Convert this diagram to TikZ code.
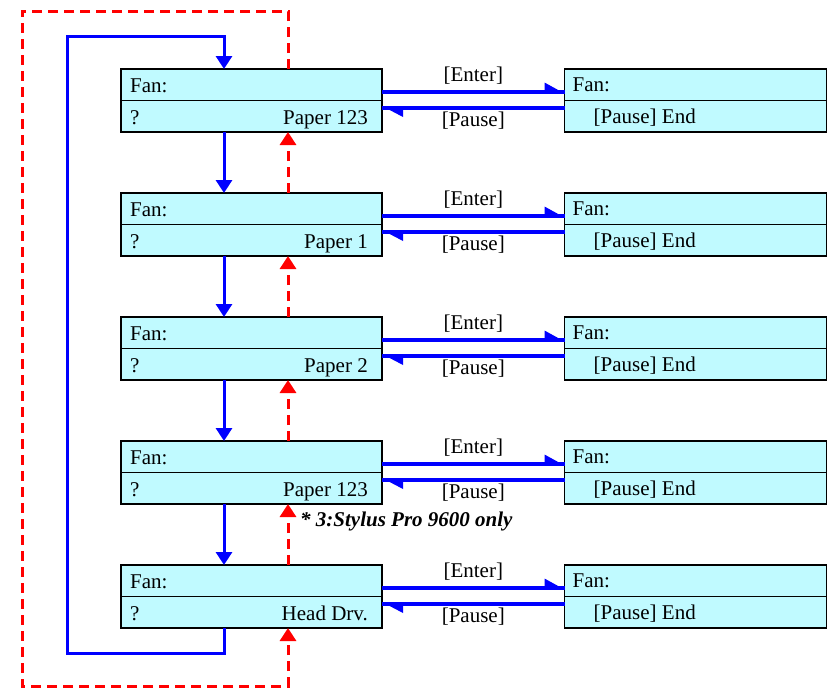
\documentclass[tikz,border=0pt]{standalone}
\usepackage{fontspec}
\setmainfont{Liberation Serif}
\usetikzlibrary{arrows.meta}
\definecolor{boxfill}{RGB}{192,250,255}
\begin{document}
\begin{tikzpicture}[x=1pt,y=-1pt,
  box/.style={draw=black, line width=1.4pt, fill=boxfill, minimum width=261pt, minimum height=63pt, inner sep=0pt, outer sep=0pt, anchor=north west},
  divider/.style={draw=black, line width=0.8pt},
  txt/.style={inner sep=0pt, font=\fontsize{21}{24}\selectfont},
  bluearr/.style={draw=blue, line width=3pt, -{Triangle[length=13pt,width=16pt]}},
  redarr/.style={draw=red, line width=3pt, dash pattern=on 10pt off 6pt, -{Triangle[length=13pt,width=16pt]}},
  harpline/.style={draw=blue, line width=4pt},
  notetxt/.style={inner sep=0pt, font=\fontsize{21}{24}\selectfont\bfseries\itshape}
]
\useasboundingbox (0,0) rectangle (828,688);

\foreach \i/\y/\lab in {1/69/Paper 123, 2/193/Paper 1, 3/317/Paper 2, 4/441/Paper 123, 5/565/Head Drv.} {
  \node[box] (L\i) at (121,\y) {};
  \node[box, minimum width=262pt] (R\i) at (564.5,\y) {};
  \draw[divider] (L\i.west) -- (L\i.east);
  \draw[divider] (R\i.west) -- (R\i.east);
  \node[txt, anchor=base west] (Lf\i) at ([xshift=9pt,yshift=-23pt]L\i.north west) {Fan:};
  \node[txt, anchor=base west] (Lq\i) at ([xshift=9pt,yshift=-55pt]L\i.north west) {?};
  \node[txt, anchor=base east] (Lp\i) at ([xshift=-14pt,yshift=-55pt]L\i.north east) {\lab};
  \node[txt, anchor=base west] (Rf\i) at ([xshift=8pt,yshift=-22pt]R\i.north west) {Fan:};
  \node[txt, anchor=base west] (Rp\i) at ([xshift=29pt,yshift=-54pt]R\i.north west) {[Pause] End};
  % Enter arrow
  \draw[harpline] ([yshift=8.5pt]L\i.east) -- ([yshift=8.5pt]R\i.west)
     node[txt, midway, above=6pt] (En\i) {[Enter]};
  \fill[blue] ([yshift=7pt]R\i.west) -- ([xshift=-20pt,yshift=18pt]R\i.west) -- ([xshift=-20pt,yshift=8pt]R\i.west) -- cycle;
  % Pause arrow
  \draw[harpline] ([yshift=-7.5pt]R\i.west) -- ([yshift=-7.5pt]L\i.east)
     node[txt, midway, below=1.5pt] (Pa\i) {[Pause]};
  \fill[blue] ([xshift=1pt,yshift=-6pt]L\i.east) -- ([xshift=21pt,yshift=-16.5pt]L\i.east) -- ([xshift=21pt,yshift=-7pt]L\i.east) -- cycle;
}

\foreach \i/\j in {1/2,2/3,3/4,4/5} {
  \draw[bluearr] ([xshift=103pt]L\i.south west) -- ([xshift=103pt]L\j.north west);
  \draw[redarr] ([xshift=167pt]L\j.north west) -- ([xshift=167pt]L\i.south west);
}

% blue loop
\coordinate (bl1) at (67,653);
\coordinate (bl2) at (67,36);
\draw[bluearr] ([xshift=103pt]L5.south west) |- (bl1) -- (bl2) -| ([xshift=103pt]L1.north west);

% red loop
\coordinate (rl1) at (22,11);
\coordinate (rl2) at (22,686);
\draw[redarr] ([xshift=167pt]L1.north west) |- (rl1) -- (rl2) -| ([xshift=167pt]L5.south west);

\node[notetxt, anchor=base west] (note) at (300,526) {* 3:Stylus Pro 9600 only};
\end{tikzpicture}
\end{document}
